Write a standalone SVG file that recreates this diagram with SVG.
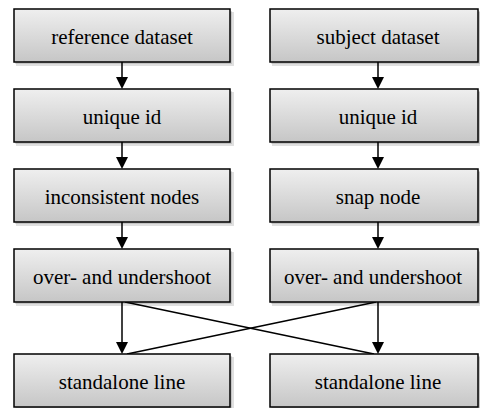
<svg xmlns="http://www.w3.org/2000/svg" width="480" height="408" viewBox="0 0 480 408" font-family="Liberation Serif, Times New Roman, serif">
<style>
.box{fill:url(#g);stroke:#000;stroke-width:1.5}
.s1{fill:#000;fill-opacity:0.12}
.c{stroke:#000;stroke-width:1.5;fill:none}
</style>
<defs>
<linearGradient id="g" x1="0" y1="0" x2="0" y2="1">
<stop offset="0" stop-color="#efefef"/>
<stop offset="1" stop-color="#c6c6c6"/>
</linearGradient>
</defs>
<g id="connectors">
<path class="c" d="M122,62 V78"/><path d="M116,77 L128,77 L122,89 Z"/>
<path class="c" d="M122,142 V158"/><path d="M116,157 L128,157 L122,169 Z"/>
<path class="c" d="M122,222 V238"/><path d="M116,237 L128,237 L122,249 Z"/>
<path class="c" d="M122,302 V343"/><path d="M116,342 L128,342 L122,354 Z"/>
<path class="c" d="M378,62 V78"/><path d="M372,77 L384,77 L378,89 Z"/>
<path class="c" d="M378,142 V158"/><path d="M372,157 L384,157 L378,169 Z"/>
<path class="c" d="M378,222 V238"/><path d="M372,237 L384,237 L378,249 Z"/>
<path class="c" d="M378,302 V343"/><path d="M372,342 L384,342 L378,354 Z"/>
<path class="c" d="M125,302 L374,354"/>
<path class="c" d="M376,302 L127,354"/>
</g>
<g id="n1"><rect class="s1" x="16" y="12" width="218" height="54"/><rect class="s1" x="15" y="11" width="217" height="53"/><rect class="box" x="14" y="9" width="216" height="53"/><text x="122" y="44" text-anchor="middle" font-size="21" style="font-family:'Liberation Serif','Times New Roman',serif">reference dataset</text></g>
<g id="n2"><rect class="s1" x="16" y="92" width="218" height="54"/><rect class="s1" x="15" y="91" width="217" height="53"/><rect class="box" x="14" y="89" width="216" height="53"/><text x="122" y="124" text-anchor="middle" font-size="21" style="font-family:'Liberation Serif','Times New Roman',serif">unique id</text></g>
<g id="n3"><rect class="s1" x="16" y="172" width="218" height="54"/><rect class="s1" x="15" y="171" width="217" height="53"/><rect class="box" x="14" y="169" width="216" height="53"/><text x="122" y="204" text-anchor="middle" font-size="21" style="font-family:'Liberation Serif','Times New Roman',serif">inconsistent nodes</text></g>
<g id="n4"><rect class="s1" x="16" y="252" width="218" height="54"/><rect class="s1" x="15" y="251" width="217" height="53"/><rect class="box" x="14" y="249" width="216" height="53"/><text x="122" y="284" text-anchor="middle" font-size="21" style="font-family:'Liberation Serif','Times New Roman',serif">over- and undershoot</text></g>
<g id="n5"><rect class="s1" x="16" y="357" width="218" height="54"/><rect class="s1" x="15" y="356" width="217" height="53"/><rect class="box" x="14" y="354" width="216" height="53"/><text x="122" y="389" text-anchor="middle" font-size="21" style="font-family:'Liberation Serif','Times New Roman',serif">standalone line</text></g>
<g id="n6"><rect class="s1" x="272" y="12" width="210" height="54"/><rect class="s1" x="271" y="11" width="209" height="53"/><rect class="box" x="270" y="9" width="208" height="53"/><text x="378" y="44" text-anchor="middle" font-size="21" style="font-family:'Liberation Serif','Times New Roman',serif">subject dataset</text></g>
<g id="n7"><rect class="s1" x="272" y="92" width="210" height="54"/><rect class="s1" x="271" y="91" width="209" height="53"/><rect class="box" x="270" y="89" width="208" height="53"/><text x="378" y="124" text-anchor="middle" font-size="21" style="font-family:'Liberation Serif','Times New Roman',serif">unique id</text></g>
<g id="n8"><rect class="s1" x="272" y="172" width="210" height="54"/><rect class="s1" x="271" y="171" width="209" height="53"/><rect class="box" x="270" y="169" width="208" height="53"/><text x="378" y="204" text-anchor="middle" font-size="21" style="font-family:'Liberation Serif','Times New Roman',serif">snap node</text></g>
<g id="n9"><rect class="s1" x="272" y="252" width="210" height="54"/><rect class="s1" x="271" y="251" width="209" height="53"/><rect class="box" x="270" y="249" width="208" height="53"/><text x="373" y="284" text-anchor="middle" font-size="21" style="font-family:'Liberation Serif','Times New Roman',serif">over- and undershoot</text></g>
<g id="n10"><rect class="s1" x="272" y="357" width="210" height="54"/><rect class="s1" x="271" y="356" width="209" height="53"/><rect class="box" x="270" y="354" width="208" height="53"/><text x="378" y="389" text-anchor="middle" font-size="21" style="font-family:'Liberation Serif','Times New Roman',serif">standalone line</text></g>
</svg>
